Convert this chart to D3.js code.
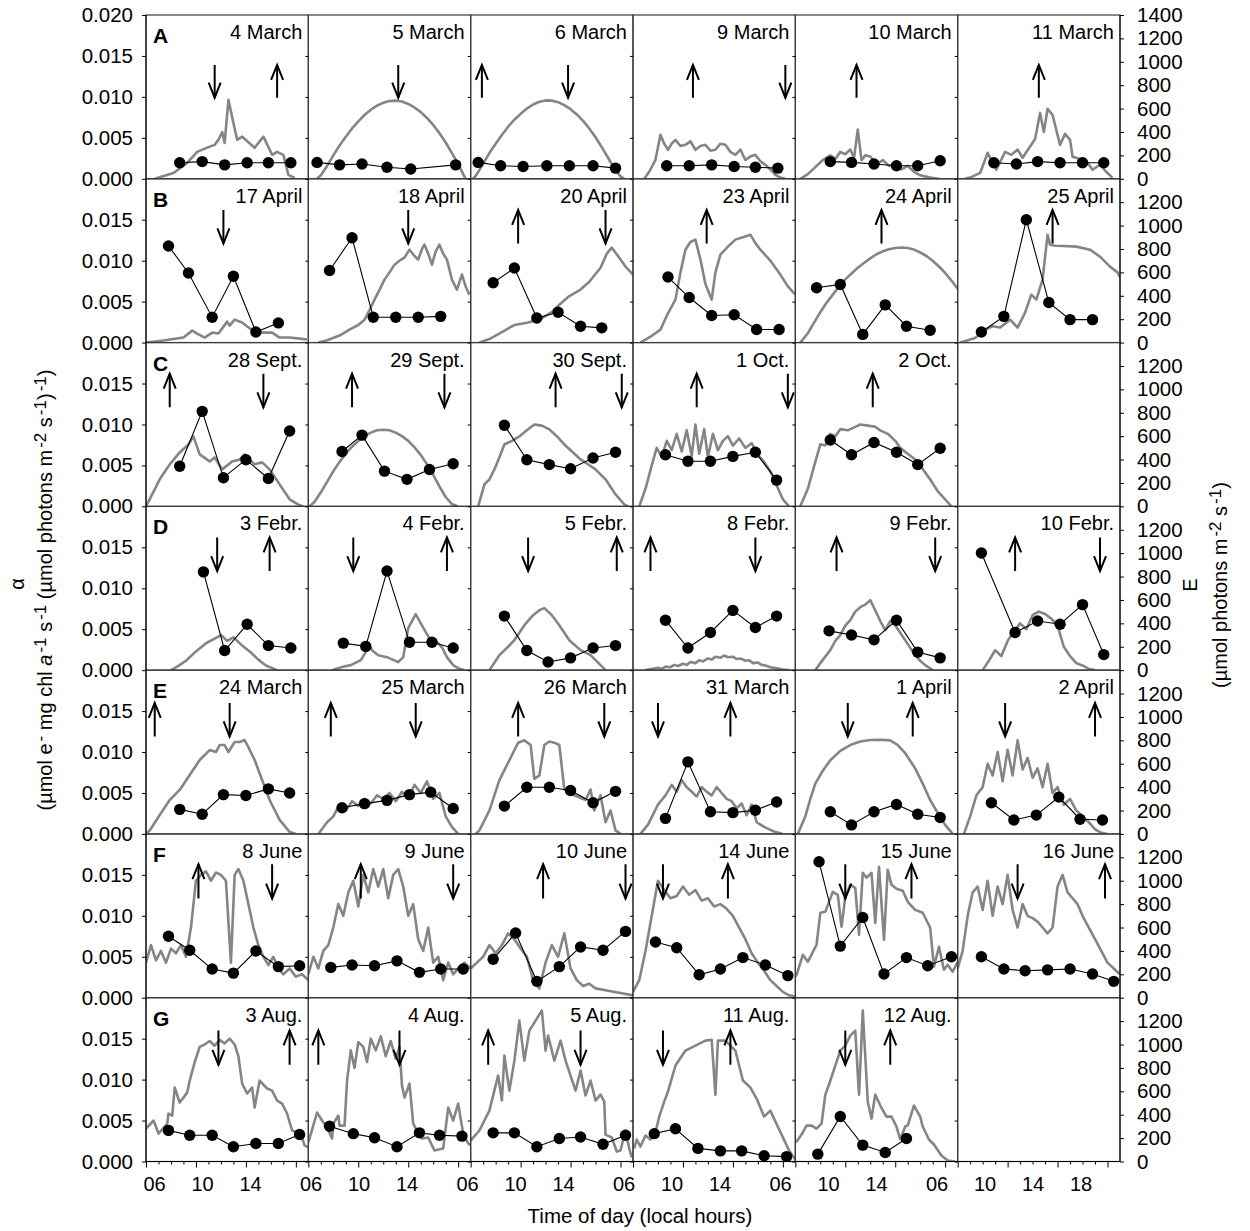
<!DOCTYPE html>
<html><head><meta charset="utf-8">
<script src="https://cdn.jsdelivr.net/npm/d3@7"></script>
<style>
body{margin:0;background:#fff}
svg text{font-family:"Liberation Sans",Arial,sans-serif;fill:#000}
</style>
</head><body>
<svg id="c" width="1250" height="1231"></svg>
<script>
// ---------------- DATA ----------------
const rowLetters = ["A","B","C","D","E","F","G"];
const datesA = ["4 March","5 March","6 March","9 March","10 March","11 March"];
const datesB = ["17 April","18 April","20 April","23 April","24 April","25 April"];
const datesC = ["28 Sept.","29 Sept.","30 Sept.","1 Oct.","2 Oct.",""];
const datesD = ["3 Febr.","4 Febr.","5 Febr.","8 Febr.","9 Febr.","10 Febr."];
const datesE = ["24 March","25 March","26 March","31 March","1 April","2 April"];
const datesF = ["8 June","9 June","10 June","14 June","15 June","16 June"];
const datesG = ["3 Aug.","4 Aug.","5 Aug.","11 Aug.","12 Aug.",""];

// irradiance E (µmol photons m-2 s-1) vs local hour
const irrA = [
 [[6.7,0],[8.2,50],[9.3,135],[10.1,230],[11.1,275],[11.5,290],[11.8,333],[12.1,400],[12.3,307],[12.6,675],[13.0,478],[13.3,333],[13.7,360],[14.7,265],[15.4,360],[16.1,205],[16.5,230],[17.0,205],[17.4,34],[17.9,8]],
 [[6.7,0],[7.0,30],[7.5,110],[8.0,200],[8.5,285],[9.0,360],[9.5,430],[10.0,490],[10.5,545],[11.0,590],[11.5,625],[12.0,650],[12.5,665],[13.0,668],[13.5,660],[14.0,640],[14.5,610],[15.0,570],[15.5,520],[16.0,460],[16.5,390],[17.0,310],[17.5,220],[18.0,125],[18.4,40],[18.6,0]],
 [[6.2,0],[6.5,40],[7.0,130],[7.5,220],[8.0,300],[8.5,375],[9.0,445],[9.5,505],[10.0,555],[10.5,600],[11.0,635],[11.5,658],[12.0,670],[12.5,668],[13.0,655],[13.5,630],[14.0,595],[14.5,550],[15.0,495],[15.5,430],[16.0,355],[16.5,270],[17.0,180],[17.5,90],[18.0,20],[18.3,0]],
 [[6.9,0],[7.3,60],[7.8,162],[8.2,376],[8.5,300],[8.8,248],[9.1,300],[9.4,333],[9.8,280],[10.2,290],[10.6,320],[11.0,248],[11.4,280],[11.8,290],[12.2,240],[12.6,248],[13.0,300],[13.4,290],[13.8,230],[14.2,205],[14.6,250],[15.0,162],[15.4,190],[15.8,205],[16.2,150],[16.6,120],[17.0,80],[17.4,34],[17.8,10],[18.2,0]],
 [[6.4,0],[7.0,40],[7.6,100],[8.2,160],[8.8,200],[9.2,170],[9.6,230],[10.0,210],[10.4,250],[10.7,180],[11.0,420],[11.3,160],[11.6,200],[12.0,190],[12.5,120],[13.0,160],[13.5,110],[14.0,130],[14.5,80],[15.0,110],[15.5,60],[16.0,30],[16.8,10],[17.5,0]],
 [[6.6,0],[7.0,10],[7.8,50],[8.4,222],[9.1,77],[9.8,230],[10.3,205],[10.8,250],[11.2,180],[12.2,340],[12.6,563],[12.9,400],[13.2,598],[13.6,545],[14.2,290],[14.6,385],[15.0,333],[15.2,188],[15.8,170],[16.4,137],[16.8,77],[17.4,120],[17.9,60],[18.4,8]]
];
const irrB = [
 [[6.0,0],[7.4,17],[9.0,43],[9.7,102],[10.1,77],[10.7,43],[11.3,85],[11.8,77],[12.5,179],[12.7,145],[13.1,196],[13.7,171],[14.1,137],[14.7,94],[15.4,85],[16.1,85],[16.7,43],[17.5,43],[18.3,34],[18.9,26]],
 [[6.8,0],[7.5,20],[8.5,60],[9.3,111],[10.0,150],[10.5,196],[11.0,300],[11.3,367],[11.7,450],[12.1,538],[12.5,600],[12.9,666],[13.3,700],[13.7,726],[14.1,794],[14.5,740],[14.8,709],[15.1,800],[15.3,837],[15.6,760],[15.9,666],[16.2,780],[16.5,837],[16.8,760],[17.1,709],[17.5,538],[17.9,453],[18.3,581],[18.6,480],[18.9,410]],
 [[6.7,0],[7.5,30],[8.5,90],[9.5,150],[10.5,170],[11.5,196],[12.5,260],[13.1,324],[13.8,390],[14.8,453],[15.5,520],[16.4,640],[16.9,760],[17.3,811],[17.8,740],[18.4,650],[19.0,581]],
 [[6.6,0],[7.4,50],[8.2,111],[8.8,250],[9.4,367],[9.8,600],[10.2,794],[10.6,860],[11.0,880],[11.4,709],[11.8,500],[12.3,367],[12.6,600],[13.0,751],[13.6,820],[14.2,880],[14.8,900],[15.4,922],[15.8,850],[16.2,794],[17.0,700],[17.8,581],[18.4,480],[19.0,410]],
 [[6.4,0],[7.0,80],[7.5,170],[8.0,260],[8.5,340],[9.0,410],[9.5,480],[10.0,540],[10.5,590],[11.0,640],[11.5,680],[12.0,720],[12.5,755],[13.0,780],[13.5,798],[14.0,808],[14.5,812],[15.0,808],[15.5,795],[16.0,770],[16.5,740],[17.0,700],[17.5,650],[18.0,595],[18.5,530],[19.0,460]],
 [[6.2,0],[7.4,40],[8.2,110],[8.8,140],[9.4,128],[10.2,196],[10.8,128],[11.4,256],[11.9,410],[12.3,367],[12.8,538],[13.2,922],[13.4,837],[13.8,828],[14.5,825],[15.5,820],[16.6,794],[17.4,734],[18.2,649],[18.8,600],[19.0,560]]
];
const irrC = [
 [[6.0,0],[6.2,40],[7.1,231],[7.9,359],[8.7,461],[9.4,529],[9.8,598],[10.3,444],[11.1,384],[11.5,418],[12.1,316],[12.9,384],[13.5,401],[13.9,444],[14.7,359],[15.3,376],[15.9,316],[16.7,188],[17.5,60],[18.3,9],[18.6,0]],
 [[6.1,0],[6.5,40],[7.0,120],[7.5,210],[8.0,300],[8.5,380],[9.0,450],[9.5,510],[10.0,560],[10.5,600],[11.0,630],[11.5,650],[12.0,655],[12.5,650],[13.0,630],[13.5,600],[14.0,560],[14.5,505],[15.0,440],[15.5,360],[16.0,270],[16.5,170],[17.0,80],[17.5,20],[18.0,0]],
 [[6.6,0],[7.1,188],[7.5,230],[7.9,316],[8.3,420],[8.7,529],[9.3,560],[9.9,598],[10.5,650],[11.1,700],[11.7,690],[12.3,658],[12.9,600],[13.5,529],[14.2,460],[14.8,401],[15.4,360],[16.0,316],[16.8,231],[17.6,102],[18.3,17],[18.6,0]],
 [[6.5,0],[7.0,150],[7.5,350],[7.9,500],[8.3,420],[8.7,560],[9.1,480],[9.5,620],[9.9,470],[10.3,650],[10.7,430],[11.0,700],[11.3,450],[11.7,660],[12.0,420],[12.4,620],[12.8,480],[13.2,560],[13.6,600],[14.0,520],[14.5,580],[15.0,500],[15.5,540],[16.0,440],[16.5,380],[17.0,300],[17.5,180],[18.0,60],[18.5,0]],
 [[6.4,0],[7.0,150],[7.6,380],[8.0,530],[8.4,520],[8.8,620],[9.2,600],[9.6,660],[10.2,650],[10.8,680],[11.2,700],[11.8,690],[12.4,680],[12.8,650],[13.4,620],[14.0,560],[14.4,500],[15.0,450],[15.6,400],[16.2,320],[16.8,230],[17.4,130],[18.0,60],[18.5,0]],
 []
];
const irrD = [
 [[8.0,0],[8.5,30],[9.2,80],[10.0,160],[10.8,230],[11.5,270],[12.0,300],[12.5,250],[13.0,280],[13.6,220],[14.3,160],[15.0,90],[15.6,40],[16.5,0]],
 [[7.9,0],[8.7,26],[9.4,43],[10.2,85],[10.6,154],[10.8,231],[11.1,171],[11.6,128],[12.3,111],[13.2,68],[13.6,111],[14.0,359],[14.6,478],[15.0,401],[15.4,325],[15.8,256],[16.3,239],[16.7,196],[17.1,111],[17.6,43],[18.0,17],[18.5,0]],
 [[7.5,0],[8.3,128],[9.0,200],[9.5,256],[10.3,384],[11.0,470],[11.5,512],[11.9,530],[12.5,470],[13.1,384],[13.9,256],[14.8,171],[15.6,128],[16.4,43],[16.8,0]],
 [[7.0,0],[7.5,10],[8.0,20],[8.3,10],[8.6,30],[9.0,25],[9.3,45],[9.6,35],[10.0,55],[10.3,45],[10.6,70],[11.0,60],[11.3,85],[11.6,75],[12.0,100],[12.3,90],[12.6,115],[13.0,105],[13.3,125],[13.6,110],[14.0,115],[14.3,95],[14.6,100],[15.0,80],[15.3,85],[15.6,60],[16.0,65],[16.3,45],[16.6,40],[17.0,25],[17.5,15],[18.0,5],[18.5,0]],
 [[7.6,0],[8.0,60],[8.8,171],[9.2,250],[9.6,299],[10.0,380],[10.4,427],[10.8,500],[11.2,538],[11.6,560],[12.0,598],[12.4,512],[12.8,420],[13.2,342],[13.6,420],[14.0,384],[14.4,320],[14.8,256],[15.2,190],[15.6,128],[16.0,80],[16.4,43],[17.0,0]],
 [[8.0,0],[8.5,80],[9.0,170],[9.5,120],[10.0,250],[10.5,330],[11.0,400],[11.5,350],[12.0,470],[12.5,500],[13.0,480],[13.5,440],[14.0,380],[14.5,200],[15.0,120],[15.5,60],[16.0,40],[16.5,10],[17.0,0]]
];
const irrE = [
 [[6.0,0],[6.3,30],[7.1,162],[7.9,290],[8.7,376],[9.5,504],[10.3,632],[11.1,717],[11.6,700],[11.9,760],[12.3,760],[12.6,700],[13.1,786],[13.5,786],[13.9,803],[14.3,720],[14.7,632],[15.3,461],[15.9,290],[16.7,120],[17.5,17],[18.0,0]],
 [[6.8,0],[7.5,100],[8.0,150],[8.5,250],[9.0,200],[9.5,280],[10.0,240],[10.5,300],[11.0,260],[11.5,330],[12.0,300],[12.5,350],[13.0,280],[13.5,360],[14.0,300],[14.5,420],[15.0,350],[15.5,450],[16.0,300],[16.5,350],[17.0,150],[17.5,60],[18.0,0]],
 [[6.4,0],[6.7,30],[7.5,200],[8.3,460],[9.1,630],[9.8,780],[10.3,800],[10.8,760],[11.1,470],[11.5,500],[11.9,760],[12.3,790],[12.7,780],[13.1,760],[13.5,380],[14.3,330],[15.2,290],[15.6,380],[15.9,200],[16.4,330],[16.8,100],[17.2,200],[17.6,30],[18.0,0]],
 [[6.6,0],[7.2,80],[8.0,250],[8.6,330],[9.1,420],[9.5,360],[9.9,460],[10.3,400],[10.7,360],[11.1,320],[11.5,400],[11.9,360],[12.3,330],[12.7,400],[13.1,350],[13.5,300],[13.9,280],[14.3,220],[14.7,260],[15.1,160],[15.5,250],[15.9,100],[16.5,60],[17.3,20],[18.0,0]],
 [[6.2,0],[6.8,150],[7.2,300],[7.6,430],[8.2,540],[8.8,630],[9.6,710],[10.4,760],[11.2,790],[12.0,803],[12.8,805],[13.6,800],[14.2,760],[14.8,690],[15.6,560],[16.2,430],[16.8,290],[17.4,180],[18.0,77],[18.6,0]],
 [[6.5,0],[7.0,150],[7.5,330],[8.0,400],[8.4,600],[8.8,500],[9.2,700],[9.6,450],[10.0,720],[10.4,500],[10.8,800],[11.2,550],[11.6,650],[12.0,480],[12.4,560],[12.8,400],[13.2,600],[13.6,350],[14.0,400],[14.5,250],[15.0,300],[15.5,200],[16.0,150],[16.5,100],[17.0,40],[17.5,10],[18.0,0]]
];
const irrF = [
 [[6.0,300],[6.4,450],[6.8,320],[7.2,400],[7.6,300],[8.0,420],[8.4,380],[8.8,450],[9.2,350],[9.6,600],[10.0,1000],[10.4,1050],[10.8,1080],[11.2,1000],[11.6,1070],[12.0,1050],[12.4,1000],[12.8,300],[13.1,1050],[13.4,1100],[13.8,1000],[14.2,800],[14.6,600],[15.0,450],[15.4,350],[15.8,280],[16.2,350],[16.6,250],[17.0,200],[17.5,250],[18.0,180],[18.5,200],[19.0,150]],
 [[6.0,200],[6.4,350],[6.8,250],[7.2,400],[7.6,450],[8.0,600],[8.4,800],[8.8,700],[9.2,900],[9.6,1000],[10.0,780],[10.4,1050],[10.8,900],[11.2,1100],[11.6,950],[12.0,1100],[12.4,850],[12.8,1050],[13.2,1100],[13.6,950],[14.0,700],[14.4,800],[14.8,500],[15.2,400],[15.6,600],[16.0,300],[16.4,350],[16.8,150],[17.2,300],[17.6,200],[18.0,250],[18.5,300],[19.0,250]],
 [[6.0,250],[6.5,300],[7.0,350],[7.5,450],[8.0,380],[8.5,450],[9.0,550],[9.5,500],[10.0,420],[10.5,350],[11.0,150],[11.5,80],[12.0,300],[12.5,450],[13.0,350],[13.5,550],[14.0,250],[14.5,150],[15.0,100],[15.5,120],[16.0,80],[17.0,60],[18.0,40],[19.0,20]],
 [[6.0,50],[6.5,150],[7.0,400],[7.5,700],[8.0,1000],[8.5,920],[9.0,850],[9.5,870],[10.0,950],[10.5,880],[11.0,920],[11.5,830],[12.0,850],[12.5,780],[13.0,800],[13.5,760],[14.0,700],[14.5,600],[15.0,500],[15.5,380],[16.0,300],[16.5,230],[17.0,150],[17.5,100],[18.0,50],[18.5,20],[19.0,10]],
 [[6.0,180],[6.1,196],[6.6,367],[7.0,307],[7.7,453],[8.0,726],[8.4,734],[9.0,905],[9.4,880],[9.7,606],[10.0,863],[10.4,965],[10.8,939],[11.1,538],[11.4,1067],[11.7,1025],[12.1,1067],[12.4,640],[12.7,1119],[13.1,495],[13.4,1093],[13.7,965],[14.1,931],[14.6,914],[15.0,820],[15.6,751],[16.2,726],[16.8,598],[17.1,265],[17.5,435],[17.9,239],[18.2,282],[18.6,222],[19.0,307]],
 [[6.0,250],[6.4,400],[6.8,700],[7.2,900],[7.6,950],[8.0,750],[8.4,1000],[8.8,700],[9.2,950],[9.6,800],[10.0,1050],[10.4,750],[10.8,600],[11.2,800],[11.6,700],[12.0,680],[12.4,650],[12.8,600],[13.2,550],[13.6,600],[14.0,950],[14.4,1050],[14.8,900],[15.2,850],[15.6,800],[16.0,700],[16.5,600],[17.0,500],[17.5,400],[18.0,300],[18.5,250],[19.0,200]]
];
const irrG = [
 [[6.0,282],[6.6,350],[7.0,239],[7.7,324],[7.8,410],[8.1,393],[8.3,632],[8.7,504],[9.3,589],[9.5,692],[9.9,850],[10.3,980],[10.7,1000],[11.1,1030],[11.5,990],[11.9,1040],[12.3,1010],[12.7,1050],[13.1,1000],[13.4,900],[13.7,666],[14.1,581],[14.5,632],[14.7,461],[15.1,692],[15.7,624],[16.1,606],[16.5,521],[16.9,495],[17.3,410],[17.7,265],[18.1,248],[18.5,205],[18.7,137],[19.0,120]],
 [[6.0,162],[6.7,418],[7.1,350],[7.5,290],[7.9,196],[8.0,324],[8.4,393],[8.5,307],[8.9,307],[9.1,692],[9.4,950],[9.7,800],[10.0,1020],[10.4,980],[10.7,850],[11.0,1050],[11.4,950],[11.8,1070],[12.2,900],[12.6,1030],[13.0,880],[13.3,980],[13.5,649],[13.7,547],[14.1,666],[14.4,324],[14.8,239],[15.1,196],[15.6,205],[16.1,94],[16.8,111],[17.2,461],[17.6,350],[18.0,495],[18.4,239],[18.8,154],[19.0,140]],
 [[6.0,179],[6.7,265],[7.5,435],[8.2,734],[8.5,521],[8.7,905],[9.1,606],[9.5,862],[9.9,1204],[10.3,862],[10.7,1119],[11.7,1290],[12.0,948],[12.2,1076],[12.7,862],[13.2,1033],[13.6,862],[14.4,606],[14.8,777],[15.2,564],[15.6,692],[16.0,521],[16.4,572],[16.7,512],[16.8,230],[17.3,205],[17.7,85],[18.0,94],[18.4,265],[18.7,111],[18.9,34]],
 [[6.1,111],[6.3,188],[6.6,128],[7.0,222],[7.4,188],[7.8,248],[8.1,384],[8.5,512],[8.8,598],[9.4,820],[10.2,948],[11.0,990],[11.8,1033],[12.3,1040],[12.6,572],[12.8,1033],[13.4,1033],[14.2,948],[14.8,692],[15.4,632],[15.9,538],[16.5,384],[17.0,435],[17.4,342],[17.9,230],[18.5,94],[19.0,17]],
 [[6.05,162],[6.5,230],[6.9,307],[7.3,307],[7.7,282],[8.1,324],[8.4,572],[8.7,658],[9.2,820],[9.6,948],[10.0,990],[10.4,1076],[10.8,1119],[11.1,572],[11.4,1290],[11.8,512],[12.1,367],[12.4,572],[12.8,478],[13.3,384],[13.7,384],[14.1,299],[14.4,188],[14.8,299],[15.0,307],[15.5,478],[16.0,384],[16.2,299],[16.7,188],[17.1,145],[17.7,51],[18.2,9],[18.8,0]],
 []
];

// photosynthetic efficiency alpha vs local hour
const alphaA = [
 [[8.7,0.00195],[10.5,0.0021],[12.3,0.0017],[14.1,0.00195],[15.8,0.00195],[17.6,0.00195]],
 [[6.7,0.0020],[8.5,0.0017],[10.3,0.0018],[12.3,0.0014],[14.2,0.0012],[17.8,0.0017]],
 [[6.6,0.0020],[8.4,0.0016],[10.2,0.0015],[12.1,0.0016],[13.9,0.0016],[15.8,0.0016],[17.6,0.0013]],
 [[8.7,0.0016],[10.5,0.0016],[12.3,0.0017],[14.1,0.0015],[15.8,0.0014],[17.6,0.0013]],
 [[8.8,0.0021],[10.5,0.0020],[12.3,0.0018],[14.1,0.0016],[15.8,0.0016],[17.6,0.0022]],
 [[8.9,0.00195],[10.7,0.0018],[12.4,0.0021],[14.2,0.00195],[16.0,0.00195],[17.7,0.00195]]
];
const alphaB = [
 [[7.8,0.0118],[9.4,0.0085],[11.3,0.0031],[13.0,0.0081],[14.8,0.0013],[16.6,0.0024]],
 [[7.7,0.0088],[9.5,0.0128],[11.2,0.0031],[13.0,0.0031],[14.8,0.0031],[16.6,0.0032]],
 [[7.8,0.0073],[9.5,0.0091],[11.3,0.0030],[13.0,0.0037],[14.8,0.0020],[16.5,0.0018]],
 [[8.8,0.0080],[10.5,0.0055],[12.3,0.0033],[14.1,0.0034],[15.9,0.0016],[17.7,0.0016]],
 [[7.7,0.0067],[9.6,0.0071],[11.4,0.0010],[13.2,0.0046],[14.9,0.0020],[16.8,0.0015]],
 [[7.9,0.0013],[9.7,0.0032],[11.5,0.0150],[13.3,0.0049],[15.0,0.0028],[16.8,0.0028]]
];
const alphaC = [
 [[8.7,0.0049],[10.5,0.0116],[12.2,0.0035],[14.0,0.0057],[15.8,0.0034],[17.5,0.0092]],
 [[8.7,0.0067],[10.3,0.0087],[12.1,0.0043],[13.9,0.0033],[15.7,0.0045],[17.6,0.0052]],
 [[8.7,0.0099],[10.5,0.0057],[12.3,0.0051],[14.0,0.0046],[15.8,0.0059],[17.6,0.0066]],
 [[8.6,0.0063],[10.4,0.0055],[12.2,0.0055],[14.0,0.0061],[15.8,0.0066],[17.5,0.0032]],
 [[8.8,0.0081],[10.5,0.0063],[12.3,0.0078],[14.1,0.0066],[15.8,0.0051],[17.6,0.0071]],
 []
];
const alphaD = [
 [[10.6,0.0120],[12.3,0.0024],[14.1,0.0056],[15.8,0.0030],[17.6,0.0027]],
 [[8.8,0.0033],[10.6,0.0029],[12.3,0.0121],[14.1,0.0034],[15.9,0.0034],[17.6,0.0027]],
 [[8.7,0.0066],[10.5,0.0024],[12.2,0.0010],[14.0,0.0015],[15.8,0.0027],[17.6,0.0030]],
 [[8.6,0.0061],[10.4,0.0027],[12.2,0.0046],[14.0,0.0073],[15.8,0.0052],[17.5,0.0066]],
 [[8.7,0.0048],[10.5,0.0043],[12.3,0.0037],[14.1,0.0061],[15.8,0.0022],[17.6,0.0015]],
 [[7.9,0.0143],[10.6,0.0046],[12.4,0.0060],[14.2,0.0056],[16.0,0.0080],[17.7,0.0019]]
];
const alphaE = [
 [[8.7,0.0030],[10.5,0.0024],[12.2,0.0048],[14.0,0.0047],[15.8,0.0055],[17.5,0.0050]],
 [[8.7,0.0032],[10.5,0.0037],[12.3,0.0041],[14.1,0.0048],[15.8,0.0051],[17.6,0.0031]],
 [[8.7,0.0034],[10.5,0.0057],[12.3,0.0057],[14.0,0.0053],[15.8,0.0038],[17.6,0.0052]],
 [[8.6,0.0019],[10.4,0.0088],[12.2,0.0027],[14.0,0.0026],[15.8,0.0029],[17.5,0.0039]],
 [[8.8,0.0027],[10.5,0.0011],[12.3,0.0027],[14.1,0.0036],[15.8,0.0024],[17.6,0.0020]],
 [[8.7,0.0038],[10.5,0.0017],[12.3,0.0023],[14.1,0.0045],[15.8,0.0018],[17.6,0.0017]]
];
const alphaF = [
 [[7.8,0.0075],[9.5,0.0058],[11.3,0.0035],[13.0,0.0030],[14.8,0.0057],[16.6,0.0038],[18.3,0.0039]],
 [[7.8,0.0037],[9.5,0.0040],[11.3,0.0039],[13.1,0.0045],[14.9,0.0031],[16.6,0.0035],[18.4,0.0035]],
 [[7.8,0.0047],[9.6,0.0079],[11.3,0.0020],[13.1,0.0038],[14.8,0.0062],[16.6,0.0058],[18.4,0.0081]],
 [[7.8,0.0068],[9.5,0.0061],[11.3,0.0028],[13.0,0.0035],[14.8,0.0049],[16.6,0.0040],[18.4,0.0027]],
 [[7.9,0.0166],[9.6,0.0063],[11.4,0.0098],[13.1,0.0029],[14.9,0.0049],[16.6,0.0039],[18.5,0.0050]],
 [[7.9,0.0050],[9.7,0.0035],[11.4,0.0033],[13.2,0.0034],[15.0,0.0035],[16.8,0.0029],[18.5,0.0020]]
];
const alphaG = [
 [[7.8,0.0038],[9.5,0.0032],[11.3,0.0032],[13.0,0.0018],[14.8,0.0022],[16.6,0.0022],[18.3,0.0033]],
 [[7.7,0.0043],[9.6,0.0034],[11.3,0.0029],[13.1,0.0018],[14.9,0.0035],[16.5,0.0032],[18.3,0.0031]],
 [[7.8,0.0035],[9.5,0.0035],[11.3,0.0018],[13.1,0.0028],[14.8,0.0030],[16.6,0.0021],[18.4,0.0032]],
 [[7.7,0.0034],[9.4,0.0040],[11.2,0.0016],[13.0,0.0013],[14.7,0.0013],[16.5,0.0007],[18.3,0.0006]],
 [[7.8,0.0009],[9.6,0.0055],[11.4,0.0020],[13.2,0.0011],[14.9,0.0028]],
 []
];

// arrows: [hour, direction]
const arrowsA = [[[11.5,"down"],[16.5,"up"]],[[13.2,"down"]],[[6.9,"up"],[13.8,"down"]],[[10.8,"up"],[18.2,"down"]],[[10.9,"up"]],[[12.5,"up"]]];
const arrowsB = [[[12.2,"down"]],[[14.0,"down"]],[[9.8,"up"],[16.8,"down"]],[[11.9,"up"]],[[12.9,"up"]],[[13.6,"up"]]];
const arrowsC = [[[7.9,"up"],[15.4,"down"]],[[9.5,"up"],[16.9,"down"]],[[12.8,"up"],[18.1,"down"]],[[11.1,"up"],[18.4,"down"]],[[12.2,"up"]],[]];
const arrowsD = [[[11.7,"down"],[15.9,"up"]],[[9.6,"down"],[17.1,"up"]],[[10.6,"down"],[17.7,"up"]],[[7.4,"up"],[15.8,"down"]],[[9.3,"up"],[17.2,"down"]],[[10.6,"up"],[17.4,"down"]]];
const arrowsE = [[[6.7,"up"],[12.7,"down"]],[[7.8,"up"],[14.6,"down"]],[[9.8,"up"],[16.7,"down"]],[[8.0,"down"],[13.8,"up"]],[[10.2,"down"],[15.4,"up"]],[[9.8,"down"],[17.0,"up"]]];
const arrowsF = [[[10.2,"up"],[16.1,"down"]],[[10.2,"up"],[17.6,"down"]],[[11.8,"up"],[18.4,"down"]],[[8.4,"down"],[13.6,"up"]],[[10.0,"down"],[15.3,"up"]],[[10.8,"down"],[17.8,"up"]]];
const arrowsG = [[[11.8,"down"],[17.5,"up"]],[[6.8,"up"],[13.3,"down"]],[[7.4,"up"],[14.8,"down"]],[[8.4,"down"],[13.8,"up"]],[[10.0,"down"],[13.6,"up"]],[]];
// arrow extent in alpha units per row [low, high]
const arrowSpan = [[0.0099,0.0139],[0.0121,0.0162],[0.0121,0.0162],[0.0121,0.0162],[0.0119,0.0160],[0.0121,0.0163],[0.0118,0.0160]];

const alphaTicksFirst = [0,0.005,0.010,0.015,0.020];
const alphaTicks = [0,0.005,0.010,0.015];
const eTicksFirst = [0,200,400,600,800,1000,1200,1400];
const eTicks = [0,200,400,600,800,1000,1200];
const hourMajor = [6,10,14,18];
const hourMinor = [7,8,9,11,12,13,15,16,17];
const hourLabels = [6,10,14];
const hourLabelsLast = [6,10,14,18];

// ---------------- LAYOUT ----------------
const plotL=146, plotR=1120, plotT=15, plotB=1161.5;
const nCols=6, nRows=7;
const colW=(plotR-plotL)/nCols, rowH=(plotB-plotT)/nRows;
const svg=d3.select("#c");
const defs=svg.append("defs");

const allDates=[datesA,datesB,datesC,datesD,datesE,datesF,datesG];
const allIrr=[irrA,irrB,irrC,irrD,irrE,irrF,irrG];
const allAlpha=[alphaA,alphaB,alphaC,alphaD,alphaE,alphaF,alphaG];
const allArrows=[arrowsA,arrowsB,arrowsC,arrowsD,arrowsE,arrowsF,arrowsG];

const gData=svg.append("g");
const gFrame=svg.append("g");
const gAxes=svg.append("g");

function styleAxis(g,fs){
  g.attr("font-family",null).attr("font-size",null);
  g.selectAll("text").style("font-size",fs+"px").style("font-family",'"Liberation Sans",Arial,sans-serif');
  g.selectAll(".domain").remove();
  g.selectAll("line").attr("stroke","#000");
}

for(let r=0;r<nRows;r++){
  const y0=plotT+r*rowH, y1=y0+rowH;
  const yA=d3.scaleLinear().domain([0,0.020]).range([y1,y0]);
  const yE=d3.scaleLinear().domain([0,1400]).range([y1,y0]);
  for(let c=0;c<nCols;c++){
    const x0=plotL+c*colW, x1=x0+colW;
    const x=d3.scaleLinear().domain([6,19]).range([x0,x1]);
    const id="clip"+r+"_"+c;
    defs.append("clipPath").attr("id",id).append("rect")
      .attr("x",x0).attr("y",y0).attr("width",colW).attr("height",rowH);
    const g=gData.append("g").attr("clip-path","url(#"+id+")");
    const irr=allIrr[r][c];
    if(irr.length){
      g.append("path").datum(irr)
        .attr("fill","none").attr("stroke","#858585").attr("stroke-width",2.6)
        .attr("stroke-linejoin","round")
        .attr("d",d3.line().x(d=>x(d[0])).y(d=>yE(d[1])));
    }
    const al=allAlpha[r][c];
    if(al.length){
      g.append("path").datum(al)
        .attr("fill","none").attr("stroke","#000").attr("stroke-width",1.1)
        .attr("d",d3.line().x(d=>x(d[0])).y(d=>yA(d[1])));
      g.selectAll("circle").data(al).join("circle")
        .attr("cx",d=>x(d[0])).attr("cy",d=>yA(d[1])).attr("r",5.7).attr("fill","#000");
    }
    // arrows
    const span=arrowSpan[r];
    allArrows[r][c].forEach(a=>{
      const ax=x(a[0]);
      const yl=yA(span[0]), yh=yA(span[1]);
      const tip = a[1]==="up"? yh : yl;
      const dir = a[1]==="up"? 1 : -1;
      g.append("line").attr("x1",ax).attr("x2",ax).attr("y1",yl).attr("y2",yh)
        .attr("stroke","#000").attr("stroke-width",2);
      g.append("path").attr("d",`M${ax-6},${tip+dir*15}L${ax},${tip}L${ax+6},${tip+dir*15}`)
        .attr("fill","none").attr("stroke","#000").attr("stroke-width",2);
    });
    // frame
    gFrame.append("rect").attr("x",x0).attr("y",y0).attr("width",colW).attr("height",rowH)
      .attr("fill","none").attr("stroke","#3a3a3a").attr("stroke-width",1.2);
    // panel labels
    if(c===0){
      gFrame.append("text").attr("x",x0+7).attr("y",y0+28).attr("font-weight","bold")
        .attr("font-size","21px").text(rowLetters[r]);
    }
    if(allDates[r][c]){
      gFrame.append("text").attr("x",x1-6).attr("y",y0+24).attr("text-anchor","end")
        .attr("font-size","20px").text(allDates[r][c]);
    }
    // inner small ticks on panel left edges
    if(c>0){
      const t=gAxes.append("g").attr("transform",`translate(${x0},0)`)
        .call(d3.axisLeft(yA).tickValues(alphaTicks).tickSize(3).tickFormat(""));
      styleAxis(t,10);
    }
    // bottom axis for last row
    if(r===nRows-1){
      const tb=gAxes.append("g").attr("transform",`translate(0,${y1})`)
        .call(d3.axisBottom(x).tickValues(hourMajor).tickSize(6).tickFormat(""));
      styleAxis(tb,10);
      const tm=gAxes.append("g").attr("transform",`translate(0,${y1})`)
        .call(d3.axisBottom(x).tickValues(hourMinor).tickSize(3).tickFormat(""));
      styleAxis(tm,10);
      // label axis (labels as set in the original figure)
      const base=154+c*156.5;
      const xl=d3.scaleLinear().domain([6,18]).range([base,base+144]);
      const tl=gAxes.append("g").attr("transform",`translate(0,${y1})`)
        .call(d3.axisBottom(xl).tickValues(c===nCols-1?hourLabelsLast:hourLabels)
          .tickSize(0).tickPadding(15).tickFormat(d3.format("02d")));
      styleAxis(tl,20);
    }
  }
  // left axis
  const la=gAxes.append("g").attr("transform",`translate(${plotL},0)`)
    .call(d3.axisLeft(yA).tickValues(r===0?alphaTicksFirst:alphaTicks)
      .tickFormat(d3.format(".3f")).tickSize(4).tickPadding(9));
  styleAxis(la,20.5);
  // right axis
  const ra=gAxes.append("g").attr("transform",`translate(${plotR},0)`)
    .call(d3.axisRight(yE).tickValues(r===0?eTicksFirst:eTicks).tickFormat(d3.format("d"))
      .tickSize(4).tickPadding(13));
  styleAxis(ra,20.5);
}
// outer axis lines
gAxes.append("line").attr("x1",plotL).attr("x2",plotL).attr("y1",plotT).attr("y2",plotB).attr("stroke","#000");
gAxes.append("line").attr("x1",plotR).attr("x2",plotR).attr("y1",plotT).attr("y2",plotB).attr("stroke","#000");
gAxes.append("line").attr("x1",plotL).attr("x2",plotR).attr("y1",plotB).attr("y2",plotB).attr("stroke","#000");

// axis titles
svg.append("text").attr("x",640).attr("y",1223).attr("text-anchor","middle")
  .attr("font-size","20.5px").text("Time of day (local hours)");

function addParts(t,parts){
  parts.forEach(p=>{
    const s=t.append("tspan").text(p.t);
    if(p.sup){ s.attr("baseline-shift","38%").attr("font-size","17px").attr("dx",2); }
    if(p.it){ s.attr("font-style","italic"); }
  });
}
const lt=svg.append("g").attr("transform","translate(24,590) rotate(-90)");
lt.append("text").attr("x",6).attr("y",0).attr("text-anchor","middle").attr("font-size","20px").text("α");
const lt2=lt.append("text").attr("x",0).attr("y",28).attr("text-anchor","middle").attr("font-size","20px");
addParts(lt2,[{t:"(µmol e"},{t:"-",sup:1},{t:" mg chl "},{t:"a",it:1},{t:"-1",sup:1},{t:" s"},{t:"-1",sup:1},
  {t:" (µmol photons m"},{t:"-2",sup:1},{t:" s"},{t:"-1",sup:1},{t:")"},{t:"-1",sup:1},{t:")"}]);

const rt=svg.append("g").attr("transform","translate(1197,585) rotate(-90)");
rt.append("text").attr("x",0).attr("y",0).attr("text-anchor","middle").attr("font-size","20px").text("E");
const rt2=rt.append("text").attr("x",0).attr("y",30).attr("text-anchor","middle").attr("font-size","20px");
addParts(rt2,[{t:"(µmol photons m"},{t:"-2",sup:1},{t:" s"},{t:"-1",sup:1},{t:")"}]);
</script>
</body></html>
